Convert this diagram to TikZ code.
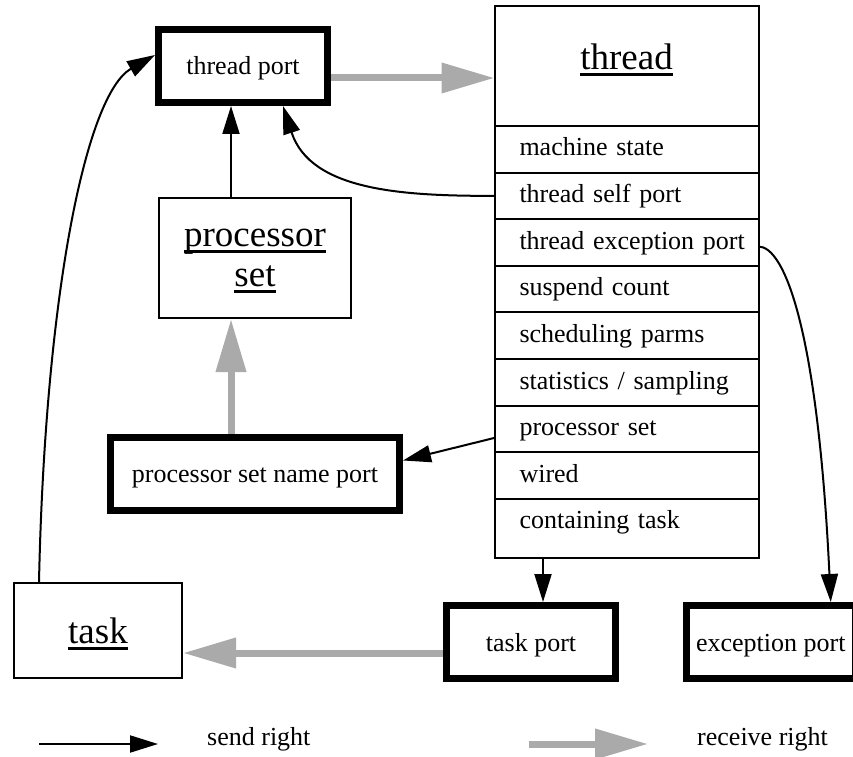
\documentclass[tikz,border=0pt]{standalone}
\usepackage{fontspec}
\setmainfont{Liberation Serif}
\usetikzlibrary{
  arrows.meta,
  positioning,
  calc
}
\setlength{\parindent}{0pt}
\definecolor{recvgray}{RGB}{170,170,170}
\newcommand{\portfont}{\fontsize{26}{30}\selectfont}
\newcommand{\namefont}{\fontsize{37}{40}\selectfont}
\newcommand{\uword}[1]{\leavevmode\setbox0\hbox{#1}\rlap{\vrule height -3.5pt depth 6.5pt width \wd0}\box0}

\tikzset{
  port/.style={draw, line width=7pt, minimum width=169pt, minimum height=73pt,
    inner ysep=0pt, text height=45.5pt, text depth=27.5pt, font=\portfont},
  object/.style={draw, line width=2pt, inner ysep=0pt, align=center, font=\namefont},
  field/.style={draw, line width=2pt, outer sep=0pt, minimum width=264pt,
    text width=264pt, inner xsep=0pt, inner ysep=0pt, align=left,
    text height=30pt, text depth=16.6pt, font=\portfont,
    execute at begin node={\hspace*{25pt}}},
  send/.style={-{Triangle[length=28pt,width=17pt]}, line width=2pt},
  recv/.style={-{Triangle[length=53pt,width=29pt]}, line width=7pt, recvgray}
}

\begin{document}
\begin{tikzpicture}[x=1pt, y=1pt]
  \def\Yhead{690};
  \def\Yport{114};
  \useasboundingbox (0,0) rectangle (853,756);

        % the thread and its fields
        \node[draw, line width=2pt, outer sep=0pt, minimum width=264pt, inner sep=0pt,
          text height=64pt, text depth=56pt, font=\namefont] (thread) at (626.5, \Yhead) {\uword{thread}};
        \node[field, below=0pt of thread] (r1) {machine state};
        \node[field, below=0pt of r1] (r2) {thread self port};
        \node[field, below=0pt of r2] (r3) {thread exception port};
        \node[field, below=0pt of r3] (r4) {suspend count};
        \node[field, below=0pt of r4] (r5) {scheduling parms};
        \node[field, below=0pt of r5] (r6) {statistics / sampling};
        \node[field, below=0pt of r6] (r7) {processor set};
        \node[field, below=0pt of r7] (r8) {wired};
        \node[field, below=0pt of r8, text depth=29pt] (r9) {containing task};

        \node[port] (tport) at (243, \Yhead) {thread port};
        \node[object, minimum width=192pt, minimum height=120pt,
          text height=89pt, text depth=31pt] (psbox) at (255, 498) {\uword{processor}\\\uword{set}};
        \node[port, minimum width=289pt] (psname) at (255, 282.5) {processor set name port};

        \node[object, minimum width=168pt, minimum height=95pt,
          text height=60pt, text depth=35pt] (task) at (98, 125.5) {\uword{task}};
        \node[port] (taskport) at (531, \Yport) {task port};
        \node[port, minimum width=168.5pt] (excport) at (770.75, \Yport) {exception port};

        % rights
	\draw[recv] ([yshift=-12pt]tport.east) -- ([yshift=-12pt]thread.west);
	\draw[send] ([xshift=-24pt]psbox.north) -- ([xshift=-24pt]psbox.north |- tport.south);
	\draw[recv] ([xshift=-24pt]psname.north) -- ([xshift=-24pt]psname.north |- psbox.south);
	\draw[send] (r2.west) to[out=180, in=-72] ([xshift=40pt]tport.south);
	\draw[send] ([xshift=-59pt]task.north)
	  .. controls ($([xshift=-59pt]task.north)+(6,282)$) and ($([yshift=11pt]tport.west)+(-70,-40)$)
	  .. ([yshift=11pt]tport.west);
	\draw[send] ([yshift=-4pt]r3.east)
	  .. controls ($([yshift=-4pt]r3.east)+(26,0)$) and ($([xshift=60pt]excport.north)+(-13,272)$)
	  .. ([xshift=60pt]excport.north);
	\draw[send] ([yshift=-9pt]r7.west) -- ([yshift=13pt]psname.east);
	\draw[send] ([xshift=12pt]taskport.north |- r9.south) -- ([xshift=12pt]taskport.north);
	\draw[recv] ([yshift=-11pt]taskport.west) -- ([yshift=-11pt]taskport.west -| task.east);

        % legend
        \coordinate (sendA) at (39, 12);
        \coordinate (sendB) at (158, 12);
        \coordinate (recvA) at (529, 12);
        \coordinate (recvB) at (648, 12);
	\draw[send] (sendA) -- (sendB);
	\draw[recv] (recvA) -- (recvB);
        \node[anchor=base west, inner sep=0pt, font=\portfont] (sendlbl) at (207, 11) {send right};
        \node[anchor=base west, inner sep=0pt, font=\portfont] (recvlbl) at (697, 11) {receive right};

\end{tikzpicture}
\end{document}
